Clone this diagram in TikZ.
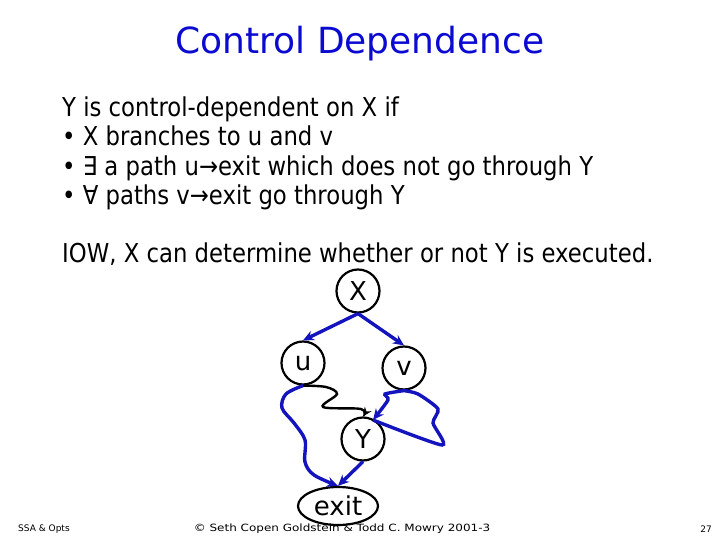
\documentclass[tikz,border=0pt]{standalone}
\usepackage{fontspec}
\setmainfont{DejaVu Sans}
\newfontfamily\bodyfont[FakeStretch=0.875]{DejaVu Sans}
\newfontfamily\footwide[FakeStretch=1.2]{DejaVu Sans}
\usetikzlibrary{arrows.meta,shapes.geometric}
\definecolor{ttl}{RGB}{10,10,210}
\definecolor{edg}{RGB}{20,20,190}
\tikzset{
  body/.style={anchor=base west,inner sep=0pt,font=\bodyfont\fontsize{26}{30}\selectfont},
  cnode/.style={circle,draw=black,line width=2.2pt,minimum size=43pt,inner sep=0pt,font=\fontsize{26}{30}\selectfont},
  bedge/.style={draw=edg,line width=3.4pt,-{Stealth[length=11pt,width=10pt]}},
  kedge/.style={draw=black,line width=2.4pt,-{Stealth[length=9pt,width=8pt]}},
  foot/.style={inner sep=0pt,font=\fontsize{9}{10}\selectfont}
}
\begin{document}
\begin{tikzpicture}[x=1pt,y=-1pt]
\useasboundingbox (0,0) rectangle (720,540);
\node[anchor=base,inner sep=0pt,text=ttl,font=\fontsize{36}{40}\selectfont] (title) at (360,54) {Control Dependence};
\node[body] (l1) at (62,117) {Y is control-dependent on X if};
\node[body] (l2) at (62,146) {• X branches to u and v};
\node[body] (l3) at (62,176) {• ∃ a path u→exit which does not go through Y};
\node[body] (l4) at (62,205) {• ∀ paths v→exit go through Y};
\node[body] (l5) at (62,262) {IOW, X can determine whether or not Y is executed.};

\node[cnode] (X) at (358,291) {X};
\node[cnode] (u) at (303,363) {u};
\node[cnode] (v) at (404,368) {v};
\node[cnode] (Y) at (363,439) {Y};
\node[ellipse,draw=black,line width=2.2pt,minimum width=80pt,minimum height=38pt,inner sep=0pt,font=\fontsize{26}{30}\selectfont] (exit) at (338,506) {exit};

\draw[bedge] (X.south) -- (u.north);
\draw[bedge] (X.south) -- (v.north);
\draw[bedge] (Y.south) -- (exit.north);

\coordinate (k1) at (326,387);
\coordinate (k2) at (337,394);
\coordinate (k3) at (323,407);
\coordinate (k4) at (361,409);
\draw[kedge] plot[smooth,tension=0.55] coordinates {(u.south) (k1) (k2) (k3) (k4) (Y.north)};

\coordinate (b1) at (286,394);
\coordinate (b2) at (282,408);
\coordinate (b3) at (294,423);
\coordinate (b4) at (305,440);
\coordinate (b5) at (305,462);
\coordinate (b6) at (314,475);
\draw[bedge] plot[smooth,tension=0.55] coordinates {(u.south) (b1) (b2) (b3) (b4) (b5) (b6) (exit.north)};

\coordinate (c1) at (385,394);
\coordinate (c2) at (388,400);
\coordinate (yin) at (373,420);
\draw[bedge] plot[smooth,tension=0.4] coordinates {(v.south) (c1) (c2) (yin)};
\coordinate (d1) at (442,445);
\coordinate (d2) at (433,423);
\coordinate (d3) at (438,409);
\coordinate (d4) at (418,394);
\draw[draw=edg,line width=3.4pt] plot[smooth,tension=0.4] coordinates {(yin) (d1) (d2) (d3) (d4) (v.south)};

\node[foot,anchor=west] (f1) at (18,529) {SSA \& Opts};
\node[foot,font=\footwide\fontsize{10}{11}\selectfont] (f2) at (342,529) {© Seth Copen Goldstein \& Todd C. Mowry 2001-3};
\node[foot,anchor=east] (f3) at (712,529) {27};
\end{tikzpicture}
\end{document}
